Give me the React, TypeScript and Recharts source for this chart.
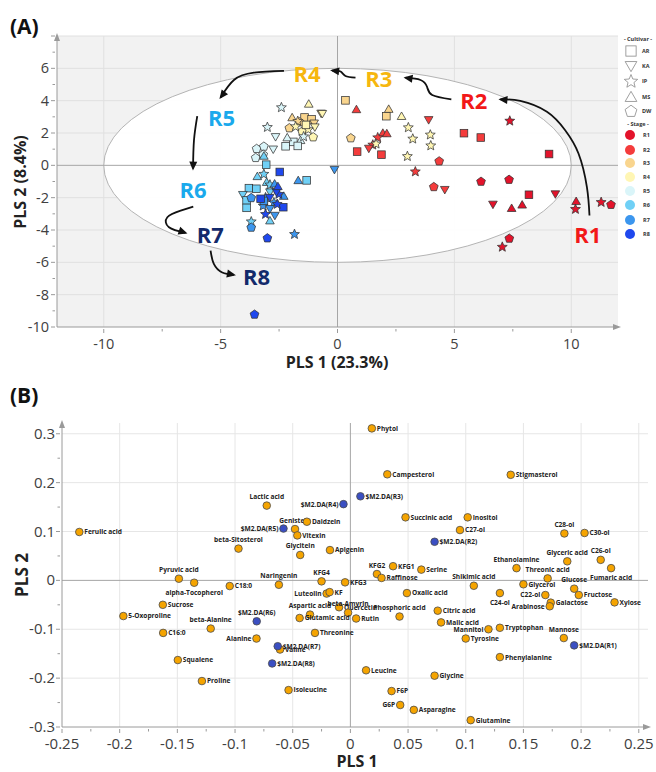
import React from 'react';
import {
  ScatterChart,
  Scatter,
  XAxis,
  YAxis,
  CartesianGrid,
  ReferenceLine,
  ReferenceArea,
  ReferenceDot,
} from 'recharts';

const FONT = "'Open Sans', 'Noto Sans', sans-serif";

// ---------------- Panel A data ----------------
const cultivars = ['AR', 'KA', 'IP', 'MS', 'DW'];
const stages = ['R1', 'R2', 'R3', 'R4', 'R5', 'R6', 'R7', 'R8'];
const stageColors = ['#e3132b', '#f43c3c', '#f9d58e', '#fff6b4', '#daf5f9', '#70d0f6', '#3c96ee', '#1f48ee'];
const stageTextColors = ['#f21818', '#f21818', '#f6b70f', '#f6b70f', '#1aa9ec', '#1aa9ec', '#132a6b', '#132a6b'];

type Pt = { c: string; x: number; y: number };

const stageR1: Pt[] = [
  { c: 'IP', x: 7.37, y: 2.77 }, { c: 'AR', x: 9.05, y: 0.7 }, { c: 'DW', x: 7.34, y: -0.87 },
  { c: 'DW', x: 6.14, y: -0.99 }, { c: 'AR', x: 8.19, y: -1.82 }, { c: 'KA', x: 9.32, y: -1.78 },
  { c: 'KA', x: 6.65, y: -2.42 }, { c: 'MS', x: 7.45, y: -2.65 }, { c: 'MS', x: 7.9, y: -2.44 },
  { c: 'MS', x: 10.21, y: -2.22 }, { c: 'IP', x: 10.18, y: -2.69 }, { c: 'IP', x: 11.28, y: -2.26 },
  { c: 'DW', x: 11.7, y: -2.42 }, { c: 'DW', x: 7.35, y: -4.51 }, { c: 'IP', x: 7.05, y: -5.03 },
];
const stageR2: Pt[] = [
  { c: 'MS', x: 0.81, y: 3.46 }, { c: 'KA', x: 3.9, y: 2.81 }, { c: 'MS', x: 1.94, y: 2.0 },
  { c: 'MS', x: 2.11, y: 1.97 }, { c: 'IP', x: 1.72, y: 1.74 }, { c: 'IP', x: 1.51, y: 1.29 },
  { c: 'KA', x: 1.34, y: 1.04 }, { c: 'AR', x: 0.84, y: 0.85 }, { c: 'AR', x: 1.88, y: 0.66 },
  { c: 'AR', x: 5.41, y: 1.99 }, { c: 'AR', x: 6.13, y: 1.72 }, { c: 'DW', x: 4.35, y: 0.27 },
  { c: 'IP', x: 3.33, y: -0.37 }, { c: 'DW', x: 4.12, y: -1.32 }, { c: 'KA', x: 4.59, y: -1.51 },
];
const stageR3: Pt[] = [
  { c: 'AR', x: 0.34, y: 4.02 }, { c: 'MS', x: 2.19, y: 3.48 }, { c: 'AR', x: 2.09, y: 3.04 },
  { c: 'DW', x: 0.57, y: 1.7 }, { c: 'MS', x: -1.94, y: 2.96 }, { c: 'AR', x: -1.41, y: 2.96 },
  { c: 'AR', x: -1.11, y: 2.84 }, { c: 'DW', x: -1.62, y: 2.69 }, { c: 'KA', x: -0.7, y: 3.21 },
  { c: 'DW', x: -2.06, y: 2.32 }, { c: 'KA', x: -1.0, y: 2.6 }, { c: 'IP', x: -1.7, y: 2.75 },
];
const stageR4: Pt[] = [
  { c: 'MS', x: 2.74, y: 3.04 }, { c: 'IP', x: 3.03, y: 2.36 }, { c: 'IP', x: 3.22, y: 1.66 },
  { c: 'IP', x: 3.97, y: 1.91 }, { c: 'IP', x: 3.99, y: 1.24 }, { c: 'IP', x: 2.99, y: 0.58 },
  { c: 'IP', x: 1.65, y: 1.35 }, { c: 'MS', x: -1.23, y: 3.8 }, { c: 'KA', x: -0.65, y: 3.19 },
  { c: 'KA', x: -0.97, y: 2.36 }, { c: 'DW', x: -1.51, y: 2.11 }, { c: 'IP', x: -1.25, y: 2.24 },
  { c: 'DW', x: -1.04, y: 1.76 }, { c: 'IP', x: -1.79, y: 2.42 }, { c: 'AR', x: -1.35, y: 2.5 },
];
const stageR5: Pt[] = [
  { c: 'IP', x: -2.4, y: 3.6 }, { c: 'IP', x: -3.0, y: 2.38 }, { c: 'KA', x: -2.65, y: 1.76 },
  { c: 'AR', x: -2.22, y: 1.18 }, { c: 'AR', x: -1.89, y: 1.45 }, { c: 'MS', x: -1.58, y: 1.55 },
  { c: 'MS', x: -2.15, y: 1.72 }, { c: 'DW', x: -3.46, y: 1.04 }, { c: 'DW', x: -3.15, y: 1.18 },
  { c: 'DW', x: -3.5, y: 0.48 }, { c: 'DW', x: -3.18, y: 0.68 }, { c: 'KA', x: -2.75, y: 0.99 },
  { c: 'IP', x: -1.45, y: 1.8 }, { c: 'AR', x: -1.7, y: 1.2 },
];
const stageR6: Pt[] = [
  { c: 'MS', x: -3.15, y: 0.58 }, { c: 'AR', x: -3.05, y: 0.04 }, { c: 'MS', x: -3.43, y: -0.68 },
  { c: 'IP', x: -3.15, y: -0.52 }, { c: 'MS', x: -3.03, y: -1.04 }, { c: 'AR', x: -3.79, y: -1.41 },
  { c: 'AR', x: -3.47, y: -1.45 }, { c: 'KA', x: -4.05, y: -1.82 }, { c: 'AR', x: -3.89, y: -2.17 },
  { c: 'AR', x: -3.89, y: -2.63 }, { c: 'IP', x: -3.69, y: -3.46 }, { c: 'MS', x: -2.89, y: -3.42 },
  { c: 'KA', x: -2.89, y: -1.66 }, { c: 'IP', x: -2.89, y: -1.18 }, { c: 'AR', x: -1.32, y: -0.93 },
];
const stageR7: Pt[] = [
  { c: 'MS', x: -1.68, y: -0.93 }, { c: 'DW', x: -3.69, y: -2.0 }, { c: 'DW', x: -3.69, y: -3.83 },
  { c: 'IP', x: -3.08, y: -1.97 }, { c: 'MS', x: -2.69, y: -1.14 }, { c: 'IP', x: -2.72, y: -2.28 },
  { c: 'KA', x: -2.68, y: -3.11 }, { c: 'KA', x: -0.13, y: -0.27 }, { c: 'IP', x: -1.84, y: -4.24 },
  { c: 'IP', x: -3.18, y: -2.48 }, { c: 'KA', x: -2.89, y: -2.69 }, { c: 'AR', x: -3.15, y: -2.2 },
  { c: 'MS', x: -2.3, y: -1.9 },
];
const stageR8: Pt[] = [
  { c: 'AR', x: -2.47, y: -0.41 }, { c: 'AR', x: -3.29, y: -2.07 }, { c: 'IP', x: -2.51, y: -1.76 },
  { c: 'KA', x: -2.61, y: -1.66 }, { c: 'AR', x: -2.32, y: -2.59 }, { c: 'IP', x: -2.58, y: -2.38 },
  { c: 'IP', x: -3.08, y: -3.0 }, { c: 'DW', x: -3.0, y: -4.49 }, { c: 'DW', x: -3.55, y: -9.21 },
  { c: 'MS', x: -2.55, y: -1.3 }, { c: 'KA', x: -2.9, y: -2.0 },
];
const stageData = [stageR1, stageR2, stageR3, stageR4, stageR5, stageR6, stageR7, stageR8];

// stage annotation labels (data coordinates)
const stageLabelX = [10.71, 5.83, 1.77, -1.3, -4.96, -6.18, -5.44, -3.46];
const stageLabelY = [-4.24, 4.04, 5.38, 5.73, 3.0, -1.45, -4.24, -6.83];

// trajectory arrows (data coordinates)
const arrowR1R2 = [
  { x: 10.78, y: -3.1 }, { x: 10.67, y: -1.35 }, { x: 10.31, y: 0.73 }, { x: 9.74, y: 2.17 },
  { x: 8.96, y: 3.31 }, { x: 7.82, y: 3.98 }, { x: 6.97, y: 4.08 },
];
const arrowR2R3 = [
  { x: 4.87, y: 4.08 }, { x: 4.05, y: 4.35 }, { x: 3.83, y: 4.86 }, { x: 3.55, y: 5.28 }, { x: 2.91, y: 5.42 },
];
const arrowR3R4 = [{ x: 0.77, y: 5.42 }, { x: 0.34, y: 5.53 }, { x: 0.13, y: 5.8 }, { x: -0.23, y: 5.86 }];
const arrowR4R5 = [{ x: -2.29, y: 5.84 }, { x: -3.58, y: 5.73 }, { x: -4.43, y: 5.28 }, { x: -5.0, y: 4.2 }];
const arrowR5R6 = [{ x: -6.0, y: 3.04 }, { x: -6.14, y: 1.55 }, { x: -6.18, y: -0.2 }];
const arrowR6R7 = [
  { x: -6.17, y: -2.55 }, { x: -6.71, y: -2.8 }, { x: -7.28, y: -3.21 }, { x: -7.21, y: -3.83 }, { x: -6.5, y: -4.18 },
];
const arrowR7R8 = [{ x: -5.43, y: -5.28 }, { x: -5.29, y: -6.1 }, { x: -4.93, y: -6.63 }, { x: -4.43, y: -6.77 }];
const arrows = [arrowR1R2, arrowR2R3, arrowR3R4, arrowR4R5, arrowR5R6, arrowR6R7, arrowR7R8];

const xTicksA = [-10, -7.5, -5, -2.5, 0, 2.5, 5, 7.5, 10];
const yTicksA = [-10, -9, -8, -7, -6, -5, -4, -3, -2, -1, 0, 1, 2, 3, 4, 5, 6, 7, 8];
const yLabelsA = [-10, -8, -6, -4, -2, 0, 2, 4, 6];

// ---------------- Panel B data ----------------
const metabolites = [
  { name: 'Ferulic acid', x: -0.235, y: 0.099 },
  { name: 'Lactic acid', x: -0.0725, y: 0.153 },
  { name: 'Genistein', x: -0.048, y: 0.105 },
  { name: 'Daidzein', x: -0.0377, y: 0.12 },
  { name: 'Vitexin', x: -0.046, y: 0.092 },
  { name: 'beta-Sitosterol', x: -0.097, y: 0.065 },
  { name: 'Glycitein', x: -0.0435, y: 0.052 },
  { name: 'Phytol', x: 0.0186, y: 0.311 },
  { name: 'Campesterol', x: 0.032, y: 0.217 },
  { name: 'Stigmasterol', x: 0.139, y: 0.216 },
  { name: 'Succinic acid', x: 0.0478, y: 0.129 },
  { name: 'Inositol', x: 0.1017, y: 0.129 },
  { name: 'C27-ol', x: 0.095, y: 0.103 },
  { name: 'C28-ol', x: 0.1855, y: 0.096 },
  { name: 'C30-ol', x: 0.203, y: 0.097 },
  { name: 'Apigenin', x: -0.0177, y: 0.062 },
  { name: 'Ethanolamine', x: 0.144, y: 0.025 },
  { name: 'Glyceric acid', x: 0.188, y: 0.039 },
  { name: 'C26-ol', x: 0.217, y: 0.042 },
  { name: 'Fumaric acid', x: 0.226, y: 0.025 },
  { name: 'Threonic acid', x: 0.171, y: 0.004 },
  { name: 'Shikimic acid', x: 0.107, y: -0.011 },
  { name: 'Glycerol', x: 0.15, y: -0.008 },
  { name: 'Glucose', x: 0.194, y: -0.017 },
  { name: 'Fructose', x: 0.198, y: -0.03 },
  { name: 'C22-ol', x: 0.169, y: -0.03 },
  { name: 'Galactose', x: 0.1737, y: -0.0456 },
  { name: 'Arabinose', x: 0.1728, y: -0.053 },
  { name: 'Xylose', x: 0.229, y: -0.045 },
  { name: 'C24-ol', x: 0.1296, y: -0.026 },
  { name: 'Oxalic acid', x: 0.049, y: -0.026 },
  { name: 'KFG1', x: 0.037, y: 0.029 },
  { name: 'KFG2', x: 0.023, y: 0.013 },
  { name: 'Raffinose', x: 0.027, y: 0.005 },
  { name: 'Serine', x: 0.0615, y: 0.022 },
  { name: 'KFG3', x: -0.0046, y: -0.004 },
  { name: 'KFG4', x: -0.025, y: -0.002 },
  { name: 'Luteolin', x: -0.0206, y: -0.027 },
  { name: 'KF', x: -0.018, y: -0.024 },
  { name: 'Quercetin', x: -0.0098, y: -0.055 },
  { name: 'beta-Amyrin', x: -0.002, y: -0.066 },
  { name: 'Rutin', x: 0.005, y: -0.078 },
  { name: 'Phosphoric acid', x: 0.0426, y: -0.074 },
  { name: 'Citric acid', x: 0.0757, y: -0.062 },
  { name: 'Malic acid', x: 0.0786, y: -0.086 },
  { name: 'Mannitol', x: 0.1197, y: -0.1 },
  { name: 'Tryptophan', x: 0.1296, y: -0.097 },
  { name: 'Tyrosine', x: 0.1, y: -0.119 },
  { name: 'Mannose', x: 0.185, y: -0.118 },
  { name: 'Phenylalanine', x: 0.1296, y: -0.157 },
  { name: 'Leucine', x: 0.0136, y: -0.184 },
  { name: 'Glycine', x: 0.073, y: -0.195 },
  { name: 'F6P', x: 0.0357, y: -0.2265 },
  { name: 'G6P', x: 0.0432, y: -0.255 },
  { name: 'Asparagine', x: 0.055, y: -0.265 },
  { name: 'Glutamine', x: 0.1043, y: -0.286 },
  { name: 'Pyruvic acid', x: -0.1487, y: 0.0034 },
  { name: 'alpha-Tocopherol', x: -0.1354, y: -0.0048 },
  { name: 'C18:0', x: -0.1046, y: -0.0116 },
  { name: 'Naringenin', x: -0.062, y: -0.009 },
  { name: 'Sucrose', x: -0.1626, y: -0.05 },
  { name: '5-Oxoproline', x: -0.1968, y: -0.073 },
  { name: 'beta-Alanine', x: -0.1211, y: -0.0986 },
  { name: 'C16:0', x: -0.1623, y: -0.1075 },
  { name: 'Aspartic acid', x: -0.035, y: -0.07 },
  { name: 'Glutamic acid', x: -0.044, y: -0.077 },
  { name: 'Alanine', x: -0.0814, y: -0.119 },
  { name: 'Valine', x: -0.061, y: -0.1415 },
  { name: 'Threonine', x: -0.0307, y: -0.1075 },
  { name: 'Squalene', x: -0.1496, y: -0.163 },
  { name: 'Proline', x: -0.1287, y: -0.206 },
  { name: 'Isoleucine', x: -0.0536, y: -0.2245 },
];
const stageClasses = [
  { name: '$M2.DA(R1)', x: 0.194, y: -0.133 },
  { name: '$M2.DA(R2)', x: 0.073, y: 0.079 },
  { name: '$M2.DA(R3)', x: 0.0087, y: 0.172 },
  { name: '$M2.DA(R4)', x: -0.006, y: 0.156 },
  { name: '$M2.DA(R5)', x: -0.058, y: 0.106 },
  { name: '$M2.DA(R6)', x: -0.0812, y: -0.0837 },
  { name: '$M2.DA(R7)', x: -0.063, y: -0.1347 },
  { name: '$M2.DA(R8)', x: -0.0678, y: -0.17 },
];

const xTicksB = [
  -0.25, -0.225, -0.2, -0.175, -0.15, -0.125, -0.1, -0.075, -0.05, -0.025, 0, 0.025, 0.05, 0.075, 0.1, 0.125,
  0.15, 0.175, 0.2, 0.225, 0.25,
];
const yTicksB = [-0.3, -0.25, -0.2, -0.15, -0.1, -0.05, 0, 0.05, 0.1, 0.15, 0.2, 0.25, 0.3];

// label placement (style, not data)
const labelSide: Record<string, string> = {
  'Lactic acid': 't', 'beta-Sitosterol': 't', Glycitein: 't', Genistein: 't', 'Pyruvic acid': 't',
  Naringenin: 't', KFG4: 't', KFG2: 't', Ethanolamine: 't', 'Glyceric acid': 't', 'C26-ol': 't',
  'C28-ol': 't', 'Threonic acid': 't', 'Shikimic acid': 't', Glucose: 't', Mannose: 't',
  '$M2.DA(R6)': 't', 'Aspartic acid': 't', 'beta-Amyrin': 't', 'Phosphoric acid': 't', 'beta-Alanine': 't',
  'alpha-Tocopherol': 'b', 'C24-ol': 'b', 'Fumaric acid': 'b',
  Luteolin: 'l', Alanine: 'l', Mannitol: 'l', 'C22-ol': 'l', Arabinose: 'l', G6P: 'l',
  '$M2.DA(R5)': 'l', '$M2.DA(R4)': 'l',
};

const isMult = (v: number, m: number) => Math.abs(Math.round(v / m) * m - v) < 1e-9;
const fmt = (v: number) => String(parseFloat(v.toFixed(3)));

// ---------------- shapes ----------------
function polyPts(cx: number, cy: number, n: number, R: number, r: number | null, rot: number) {
  const pts: string[] = [];
  const count = r === null ? n : n * 2;
  for (let i = 0; i < count; i++) {
    const a = ((rot + (i * 360) / count) * Math.PI) / 180;
    const rad = r === null ? R : i % 2 === 0 ? R : r;
    pts.push(`${(cx + rad * Math.cos(a)).toFixed(2)},${(cy + rad * Math.sin(a)).toFixed(2)}`);
  }
  return pts.join(' ');
}

function Marker({ cx, cy, kind, fill, stroke, sw }: any) {
  const common = { fill, stroke: stroke || '#333333', strokeWidth: sw || 0.75 };
  if (kind === 'AR') return <rect x={cx - 3.8} y={cy - 3.8} width={7.6} height={7.6} {...common} />;
  if (kind === 'KA') return <polygon points={polyPts(cx, cy - 0.8, 3, 5, null, 90)} {...common} />;
  if (kind === 'MS') return <polygon points={polyPts(cx, cy + 0.8, 3, 5, null, -90)} {...common} />;
  if (kind === 'IP') return <polygon points={polyPts(cx, cy + 0.4, 5, 5.2, 2.3, -90)} {...common} />;
  return <polygon points={polyPts(cx, cy + 0.3, 5, 4.6, null, -90)} {...common} />;
}

const stageShape = (color: string) => (p: any) => {
  if (p == null || p.cx == null) return <g />;
  return <Marker cx={p.cx} cy={p.cy} kind={p.payload.c} fill={color} />;
};

// plot pixel scale for panel A arrowhead orientation
const A_W = 561;
const A_H = 291;
const arrowHeadShape = (arr: { x: number; y: number }[]) => (p: any) => {
  const last = arr[arr.length - 1];
  if (!p || !p.payload || p.payload.x !== last.x || p.payload.y !== last.y) return <g />;
  const prev = arr[arr.length - 2];
  const dx = (last.x - prev.x) * (A_W / 24);
  const dy = -(last.y - prev.y) * (A_H / 18);
  const ang = (Math.atan2(dy, dx) * 180) / Math.PI;
  return (
    <g transform={`translate(${p.cx},${p.cy}) rotate(${ang})`}>
      <polygon points="2,0 -7,-4 -7,4" fill="#111" />
    </g>
  );
};

const stageTextShape = (p: any) => {
  if (!p || p.cx == null) return <g />;
  const i = stages.indexOf(p.payload.name);
  return (
    <text
      x={p.cx}
      y={p.cy}
      textAnchor="middle"
      dominantBaseline="central"
      fontSize={22}
      fontWeight={700}
      fontFamily={FONT}
      fill={stageTextColors[i]}
    >
      {p.payload.name}
    </text>
  );
};

const stageLabelPts = stages.map((s, i) => ({ name: s, x: stageLabelX[i], y: stageLabelY[i] }));

const EllipseShape = (p: any) => {
  if (!p || p.width == null) return <g />;
  return (
    <ellipse
      cx={p.x + p.width / 2}
      cy={p.y + p.height / 2}
      rx={Math.abs(p.width) / 2}
      ry={Math.abs(p.height) / 2}
      fill="#ffffff"
      fillOpacity={0.95}
      stroke="#b4b4b4"
      strokeWidth={1}
    />
  );
};

const arrowUp = (p: any) => <polygon points={`${p.cx},${p.cy - 3} ${p.cx - 3},${p.cy + 5} ${p.cx + 3},${p.cy + 5}`} fill="#9a9a9a" />;
const arrowRight = (p: any) => <polygon points={`${p.cx + 3},${p.cy} ${p.cx - 5},${p.cy - 3} ${p.cx - 5},${p.cy + 3}`} fill="#9a9a9a" />;

const pointB = (fill: string) => (p: any) => {
  if (!p || p.cx == null) return <g />;
  const { cx, cy, payload } = p;
  const side = labelSide[payload.name] || 'r';
  let tx = cx + 5;
  let ty = cy + 2.4;
  let anchor = 'start';
  if (side === 'l') {
    tx = cx - 5;
    anchor = 'end';
  } else if (side === 't') {
    tx = cx;
    ty = cy - 6.5;
    anchor = 'middle';
  } else if (side === 'b') {
    tx = cx;
    ty = cy + 12;
    anchor = 'middle';
  }
  return (
    <g>
      <circle cx={cx} cy={cy} r={3.8} fill={fill} stroke="#4a4a4a" strokeWidth={0.8} />
      <text x={tx} y={ty} textAnchor={anchor as any} fontSize={6.6} fontWeight={700} fontFamily={FONT} fill="#222">
        {payload.name}
      </text>
    </g>
  );
};

// ---------------- ticks ----------------
const xTickA = (p: any) => {
  const v = p.payload.value;
  const major = isMult(v, 5);
  return (
    <g>
      <line x1={p.x} x2={p.x} y1={p.y} y2={p.y + (major ? 4 : 2.5)} stroke="#9a9a9a" />
      {major && (
        <text x={p.x} y={p.y + 20} textAnchor="middle" fontSize={14.5} fontFamily={FONT} fill="#404040">
          {fmt(v)}
        </text>
      )}
    </g>
  );
};
const yTickA = (p: any) => {
  const v = p.payload.value;
  const major = yLabelsA.indexOf(v) >= 0;
  return (
    <g>
      <line x1={p.x} x2={p.x - (isMult(v, 2) ? 4 : 2.5)} y1={p.y} y2={p.y} stroke="#9a9a9a" />
      {major && (
        <text x={p.x - 6} y={p.y + 5} textAnchor="end" fontSize={14.5} fontFamily={FONT} fill="#404040">
          {fmt(v)}
        </text>
      )}
    </g>
  );
};
const xTickB = (p: any) => {
  const v = p.payload.value;
  const major = isMult(v, 0.05);
  return (
    <g>
      <line x1={p.x} x2={p.x} y1={p.y} y2={p.y + (major ? 4 : 2.5)} stroke="#9a9a9a" />
      {major && (
        <text x={p.x} y={p.y + 20} textAnchor="middle" fontSize={15} fontFamily={FONT} fill="#404040">
          {fmt(v)}
        </text>
      )}
    </g>
  );
};
const yTickB = (p: any) => {
  const v = p.payload.value;
  const major = isMult(v, 0.1);
  return (
    <g>
      <line x1={p.x} x2={p.x - (major ? 4 : 2.5)} y1={p.y} y2={p.y} stroke="#9a9a9a" />
      {major && (
        <text x={p.x - 5} y={p.y + 5} textAnchor="end" fontSize={15} fontFamily={FONT} fill="#404040">
          {fmt(v)}
        </text>
      )}
    </g>
  );
};

// ---------------- legend (panel A) ----------------
const legendShapeY = [51, 66, 81, 97, 111];
const legendStageY = [135, 150, 163, 177, 191, 205, 220, 234];

function Overlay() {
  return (
    <svg width={656} height={772} style={{ position: 'absolute', left: 0, top: 0, pointerEvents: 'none' }}>
      <text x={10} y={34} fontSize={21} fontWeight={700} fontFamily={FONT} fill="#111">(A)</text>
      <text x={10} y={403} fontSize={21} fontWeight={700} fontFamily={FONT} fill="#111">(B)</text>
      <text x={337} y={368} textAnchor="middle" fontSize={16} fontWeight={700} fontFamily={FONT} fill="#222">
        PLS 1 (23.3%)
      </text>
      <text
        x={0}
        y={0}
        transform="translate(26,182) rotate(-90)"
        textAnchor="middle"
        fontSize={16}
        fontWeight={700}
        fontFamily={FONT}
        fill="#222"
      >
        PLS 2 (8.4%)
      </text>
      <text x={357} y={767} textAnchor="middle" fontSize={16} fontWeight={700} fontFamily={FONT} fill="#222">
        PLS 1
      </text>
      <text
        x={0}
        y={0}
        transform="translate(28,575) rotate(-90)"
        textAnchor="middle"
        fontSize={17}
        fontWeight={700}
        fontFamily={FONT}
        fill="#222"
      >
        PLS 2
      </text>
      <text x={638} y={41} textAnchor="middle" fontSize={5.5} fontWeight={700} fontFamily={FONT} fill="#333">
        - Cultivar -
      </text>
      {cultivars.map((c, i) => (
        <g key={c}>
          <g transform={`translate(${631},${legendShapeY[i]}) scale(1.35) translate(${-631},${-legendShapeY[i]})`}>
            <Marker cx={631} cy={legendShapeY[i]} kind={c} fill="#ffffff" stroke="#8a8a8a" sw={0.6} />
          </g>
          <text x={642} y={legendShapeY[i] + 2} fontSize={5.5} fontWeight={700} fontFamily={FONT} fill="#333">
            {c}
          </text>
        </g>
      ))}
      <text x={638} y={126} textAnchor="middle" fontSize={5.5} fontWeight={700} fontFamily={FONT} fill="#333">
        - Stage -
      </text>
      {stages.map((s, i) => (
        <g key={s}>
          <circle cx={630} cy={legendStageY[i]} r={5} fill={stageColors[i]} />
          <text x={643} y={legendStageY[i] + 2} fontSize={5.5} fontWeight={700} fontFamily={FONT} fill="#333">
            {s}
          </text>
        </g>
      ))}
    </svg>
  );
}

export default function App() {
  return (
    <div style={{ position: 'absolute', left: 0, top: 0, width: 656, height: 772, background: '#fff' }}>
      <div style={{ position: 'absolute', left: 0, top: 0 }}>
        <ScatterChart width={656} height={380} margin={{ top: 36, right: 38, bottom: 0, left: 17 }}>
          <CartesianGrid
            fill="#f2f2f2"
            stroke="#e0e0e0"
            horizontalValues={[-8, -6, -4, -2, 2, 4, 6, 8]}
            verticalValues={[-10, -5, 5, 10]}
          />
          <XAxis
            type="number"
            dataKey="x"
            domain={[-12, 12]}
            ticks={xTicksA}
            interval={0}
            height={53}
            tickSize={0}
            tickLine={false}
            tick={xTickA}
            axisLine={{ stroke: '#9a9a9a' }}
            allowDataOverflow
          />
          <YAxis
            type="number"
            dataKey="y"
            domain={[-10, 8]}
            ticks={yTicksA}
            interval={0}
            width={40}
            tickSize={0}
            tickLine={false}
            tick={yTickA}
            axisLine={{ stroke: '#9a9a9a' }}
            allowDataOverflow
          />
          <ReferenceArea x1={-10} x2={10} y1={-6} y2={6} shape={EllipseShape} ifOverflow="visible" />
          <ReferenceLine x={0} stroke="#a6a6a6" strokeWidth={1} />
          <ReferenceLine y={0} stroke="#a6a6a6" strokeWidth={1} />
          {stageData.map((d, i) => (
            <Scatter
              key={stages[i]}
              name={stages[i]}
              data={d}
              fill={stageColors[i]}
              shape={stageShape(stageColors[i])}
              isAnimationActive={false}
            />
          ))}
          {arrows.map((a, i) => (
            <Scatter
              key={'arrow' + i}
              data={a}
              fill="#111"
              line={{ stroke: '#111', strokeWidth: 1.8 }}
              lineJointType="natural"
              shape={arrowHeadShape(a)}
              isAnimationActive={false}
            />
          ))}
          <Scatter data={stageLabelPts} fill="#000" shape={stageTextShape} isAnimationActive={false} />
          <ReferenceDot x={12} y={-10} r={1} ifOverflow="visible" shape={arrowRight} />
          <ReferenceDot x={-12} y={8} r={1} ifOverflow="visible" shape={arrowUp} />
        </ScatterChart>
      </div>
      <div style={{ position: 'absolute', left: 0, top: 380 }}>
        <ScatterChart width={656} height={392} margin={{ top: 43, right: 8, bottom: 0, left: 12 }}>
          <CartesianGrid
            stroke="#e6e6e6"
            horizontalValues={[-0.2, -0.1, 0.1, 0.2, 0.3]}
            verticalValues={[-0.2, -0.15, -0.1, -0.05, 0.05, 0.1, 0.15, 0.2, 0.25]}
          />
          <XAxis
            type="number"
            dataKey="x"
            domain={[-0.25, 0.258]}
            ticks={xTicksB}
            interval={0}
            height={45}
            tickSize={0}
            tickLine={false}
            tick={xTickB}
            axisLine={{ stroke: '#9a9a9a' }}
            allowDataOverflow
          />
          <YAxis
            type="number"
            dataKey="y"
            domain={[-0.3, 0.322]}
            ticks={yTicksB}
            interval={0}
            width={50}
            tickSize={0}
            tickLine={false}
            tick={yTickB}
            axisLine={{ stroke: '#9a9a9a' }}
            allowDataOverflow
          />
          <ReferenceLine x={0} stroke="#a6a6a6" strokeWidth={1} />
          <ReferenceLine y={0} stroke="#a6a6a6" strokeWidth={1} />
          <Scatter data={metabolites} fill="#f5a400" shape={pointB('#f5a400')} isAnimationActive={false} />
          <Scatter data={stageClasses} fill="#3b4fc2" shape={pointB('#3b4fc2')} isAnimationActive={false} />
          <ReferenceDot x={0.258} y={-0.3} r={1} ifOverflow="visible" shape={arrowRight} />
          <ReferenceDot x={-0.25} y={0.322} r={1} ifOverflow="visible" shape={arrowUp} />
        </ScatterChart>
      </div>
      <Overlay />
    </div>
  );
}
